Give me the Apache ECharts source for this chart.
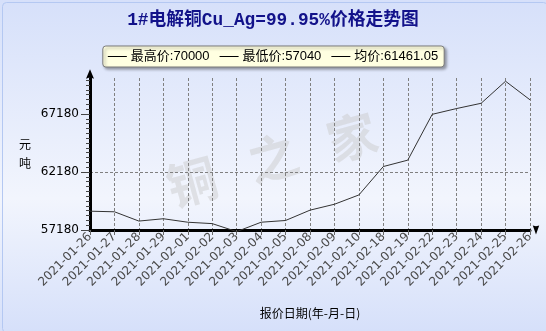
<!DOCTYPE html>
<html>
<head>
<meta charset="utf-8">
<script src="https://cdn.jsdelivr.net/npm/echarts@6/dist/echarts.min.js"></script>
<style>
html,body{margin:0;padding:0;background:#fff;}
#chart{width:546px;height:331px;}
</style>
</head>
<body>
<div id="chart"></div>
<script>
const titleText = '1#电解铜Cu_Ag=99.95%价格走势图';
const dates = ['2021-01-26','2021-01-27','2021-01-28','2021-01-29','2021-02-01','2021-02-02','2021-02-03','2021-02-04','2021-02-05','2021-02-08','2021-02-09','2021-02-10','2021-02-18','2021-02-19','2021-02-22','2021-02-23','2021-02-24','2021-02-25','2021-02-26'];
const prices = [58800,58750,57950,58150,57850,57730,57040,57850,58000,58890,59400,60200,62650,63200,67150,67650,68100,70000,68400];
const yTicks = [57180, 62180, 67180];
const yMin = 57180;
const yMax = 70280;
const yInterval = 5000;
const yAxisName = '元\n吨';
const xAxisName = '报价日期(年-月-日)';

const maxP = Math.max(...prices);
const minP = Math.min(...prices);
const avgP = (prices.reduce((a,b)=>a+b,0)/prices.length).toFixed(2);
const legendNames = ['最高价:' + maxP, '最低价:' + minP, '均价:' + avgP];

const chart = echarts.init(document.getElementById('chart'), null, {renderer:'canvas'});
const cjk = "'Noto Sans CJK SC'";
const option = {
  animation: false,
  backgroundColor: {
    type: 'linear', x: 0, y: 0, x2: 0, y2: 1,
    colorStops: [
      {offset: 0, color: '#d6e0fa'},
      {offset: 0.6, color: '#f2f5fd'},
      {offset: 1, color: '#d6e0fa'}
    ]
  },
  title: {
    text: titleText,
    left: 'center',
    top: 12,
    padding: 0,
    textStyle: {
      fontFamily: "'Liberation Mono', " + cjk,
      fontSize: 17.8,
      fontWeight: 'bold',
      color: '#12128a'
    }
  },
  legend: {
    top: 46,
    left: 'center',
    data: legendNames,
    icon: 'rect',
    itemWidth: 19,
    itemHeight: 1,
    itemGap: 10,
    padding: [4, 6, 4, 5],
    backgroundColor: '#ffffe1',
    borderColor: '#7a7a7a',
    borderWidth: 1,
    borderRadius: 3,
    shadowBlur: 3,
    shadowColor: 'rgba(0,0,0,0.35)',
    shadowOffsetX: 2,
    shadowOffsetY: 2,
    textStyle: {fontSize: 13, color: '#000', fontFamily: "'Liberation Sans', " + cjk, padding: [0,0,0,-1]}
  },
  graphic: [
    {type: 'rect', left: 0, top: 0, shape: {width: 545, height: 330, r: 4}, style: {fill: 'none', stroke: '#b4c8f2', lineWidth: 1}, z: 100, silent: true},
    {type: 'text', x: 192, y: 182, rotation: 0.27, style: {text: '铜', fontSize: 50, fontWeight: 'bold', fontFamily: cjk, fill: 'rgba(200,200,200,0.45)', align: 'center', verticalAlign: 'middle'}, z: 0, silent: true},
    {type: 'text', x: 273, y: 158, rotation: 0.27, style: {text: '之', fontSize: 50, fontWeight: 'bold', fontFamily: cjk, fill: 'rgba(200,200,200,0.45)', align: 'center', verticalAlign: 'middle'}, z: 0, silent: true},
    {type: 'text', x: 352, y: 137, rotation: 0.27, style: {text: '家', fontSize: 50, fontWeight: 'bold', fontFamily: cjk, fill: 'rgba(200,200,200,0.45)', align: 'center', verticalAlign: 'middle'}, z: 0, silent: true}
  ],
  grid: {left: 90, right: 16, top: 78, bottom: 101, containLabel: false},
  xAxis: {
    type: 'category',
    data: dates,
    boundaryGap: false,
    name: xAxisName,
    nameLocation: 'middle',
    nameGap: 77,
    nameTextStyle: {fontSize: 12, color: '#000', fontFamily: cjk},
    axisLine: {
      lineStyle: {color: '#000', width: 3},
      symbol: ['none', 'path://M0,0 L14,5 L0,10 L1,5 Z'],
      symbolSize: [9, 12],
      symbolOffset: [0, 6]
    },
    axisTick: {show: true, interval: 0, length: 5, lineStyle: {color: '#666'}},
    axisLabel: {interval: 0, rotate: 45, fontSize: 12, color: '#4a4a4a', margin: 5, fontFamily: "'DejaVu Sans'"},
    splitLine: {show: true, interval: 0, lineStyle: {color: '#808080', type: [3, 2], width: 1}}
  },
  yAxis: {
    type: 'value',
    min: yMin,
    max: yMax,
    interval: yInterval,
    name: yAxisName,
    nameLocation: 'middle',
    nameRotate: 0,
    nameGap: 59,
    nameTextStyle: {fontSize: 12, color: '#000', fontFamily: cjk, lineHeight: 19},
    axisLine: {
      show: true,
      lineStyle: {color: '#000', width: 3},
      symbol: ['none', 'path://M5,0 L10,12 L5,10 L0,12 Z'],
      symbolSize: [8, 12],
      symbolOffset: [0, 4]
    },
    axisTick: {show: true, length: 9, customValues: yTicks, lineStyle: {color: '#444'}},
    minorTick: {show: true, splitNumber: 12, length: 4, lineStyle: {color: '#444'}},
    axisLabel: {fontSize: 12, color: '#000', margin: 11, fontFamily: "'DejaVu Sans'", showMaxLabel: false, formatter: function (v) { return String(v); }},
    splitLine: {show: true, showMaxLine: false, showMinLine: false, lineStyle: {color: '#808080', type: [3, 2], width: 1}}
  },
  series: [
    {name: legendNames[0], type: 'line', data: prices, symbol: 'none', lineStyle: {color: '#333', width: 1}, itemStyle: {color: '#000'}, z: 3, clip: false},
    {name: legendNames[1], type: 'line', data: [], symbol: 'none', lineStyle: {color: '#000', width: 1}, itemStyle: {color: '#000'}},
    {name: legendNames[2], type: 'line', data: [], symbol: 'none', lineStyle: {color: '#000', width: 1}, itemStyle: {color: '#000'}}
  ]
};
chart.setOption(option);
</script>
</body>
</html>
